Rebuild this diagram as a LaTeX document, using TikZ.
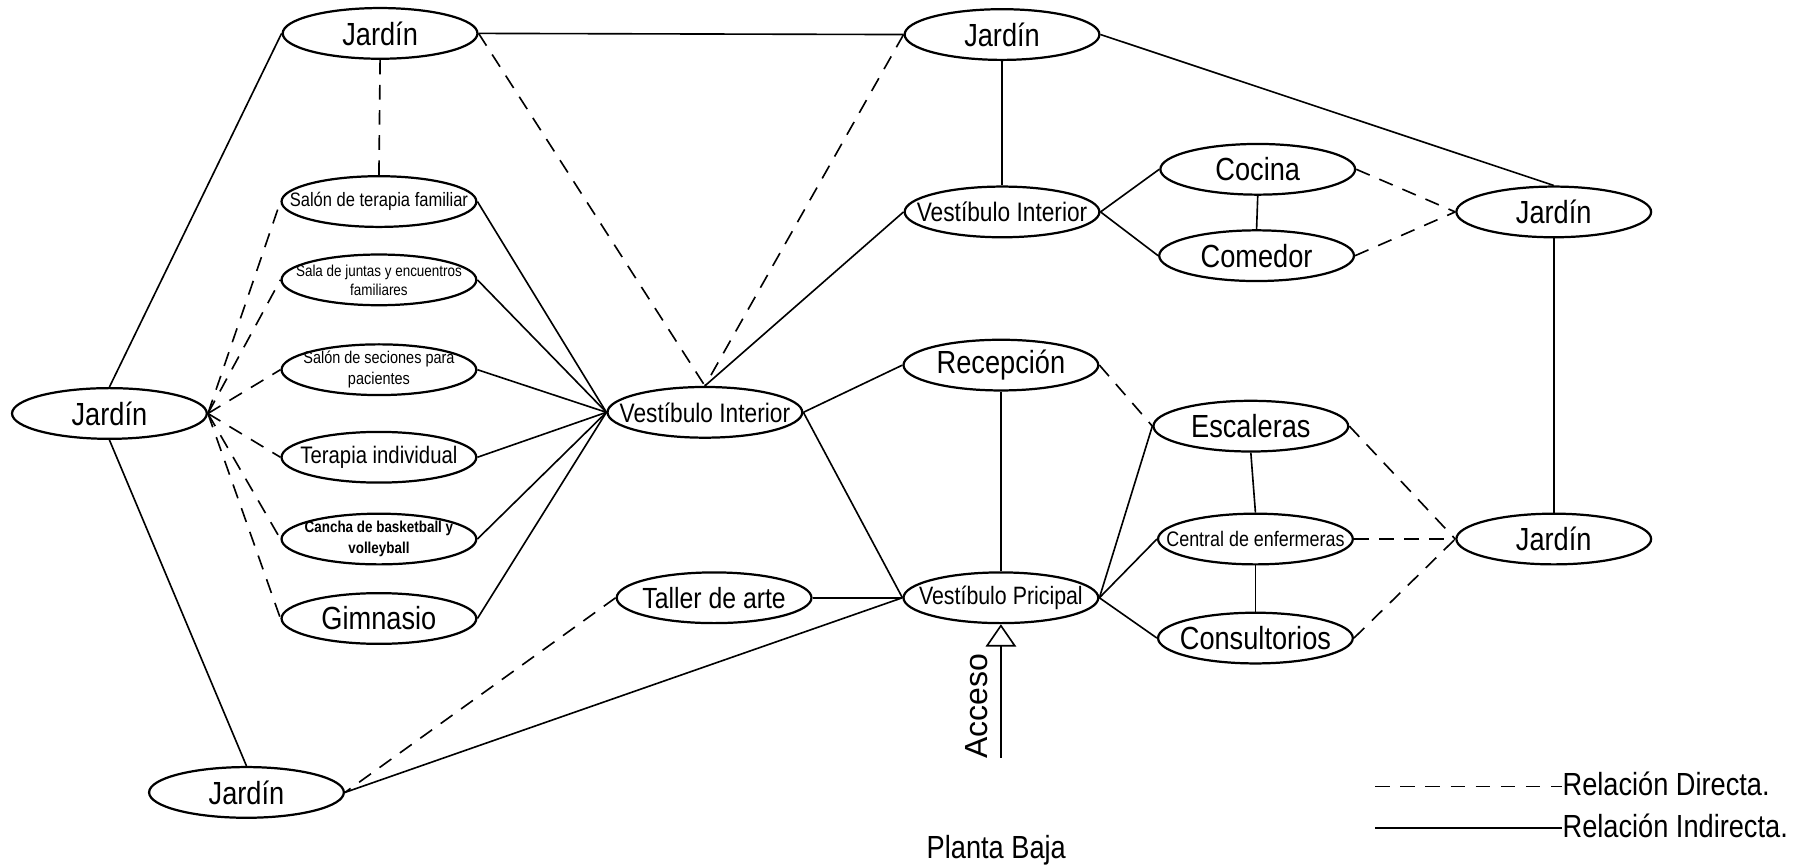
\documentclass[tikz,border=0pt]{standalone}
\usepackage{fontspec}
\setmainfont{Liberation Sans}[FakeStretch=0.85]
\newfontfamily\accfont{Liberation Sans}
\usetikzlibrary{arrows.meta,shapes.geometric}

\begin{document}
\begin{tikzpicture}[
  x=0.01cm, y=-0.01cm,
  espacio/.style={draw, ellipse, line width=0.55pt,
                  inner xsep=-2cm, inner ysep=-1cm,
                  minimum width=1.69cm, minimum height=0.44cm, align=center},
  grande/.style={espacio, font=\fontsize{7.9}{9}\selectfont},
  mediano/.style={espacio, font=\fontsize{6.6}{7.5}\selectfont},
  chico/.style={espacio, font=\fontsize{4.6}{5}\selectfont},
  directa/.style={line width=0.4pt, dash pattern=on 3.6pt off 2.6pt},
  indirecta/.style={line width=0.4pt},
  lbl/.style={font=\fontsize{7.9}{9}\selectfont, inner sep=0pt},
]
  \useasboundingbox (0,0) rectangle (1568,752);

  % Jardines
  \node[grande] (jTL) at (330, 29) {Jardín};
  \node[grande] (jTC) at (870, 30) {Jardín};
  \node[grande] (jL)  at (95, 359) {Jardín};
  \node[grande] (jB)  at (214, 688) {Jardín};
  \node[grande] (jR1) at (1349, 184) {Jardín};
  \node[grande] (jR2) at (1349, 468) {Jardín};

  % Salones (columna izquierda)
  \node[chico, font=\fontsize{4.8}{5.2}\selectfont] (terFam) at (329, 175)
    {Salón de terapia familiar};
  \node[chico, font=\fontsize{3.9}{4.7}\selectfont] (juntas) at (329, 243)
    {Sala de juntas y encuentros\\familiares};
  \node[chico, font=\fontsize{4.2}{5.1}\selectfont] (seciones) at (329, 321)
    {Salón de seciones para\\pacientes};
  \node[chico, font=\fontsize{5.9}{6.5}\selectfont] (terInd) at (329, 397)
    {Terapia individual};
  \node[chico, font=\fontsize{3.9}{5}\selectfont\bfseries] (cancha) at (329, 468)
    {Cancha de basketball y\\volleyball};
  \node[grande] (gimnasio) at (329, 537) {Gimnasio};

  % Vestibulos y demas espacios
  \node[mediano, font=\fontsize{6.6}{7.5}\selectfont] (vIntA) at (612, 358)
    {Vestíbulo Interior};
  \node[mediano, font=\fontsize{7.2}{8}\selectfont] (taller) at (620, 519)
    {Taller de arte};
  \node[mediano] (vIntB) at (870, 184) {Vestíbulo Interior};
  \node[grande] (cocina) at (1092, 147) {Cocina};
  \node[grande] (comedor) at (1091, 222) {Comedor};
  \node[grande] (recepcion) at (869, 317) {Recepción};
  \node[mediano, font=\fontsize{6.2}{7}\selectfont] (vPrin) at (869, 519)
    {Vestíbulo Pricipal};
  \node[grande] (escaleras) at (1086, 370) {Escaleras};
  \node[chico, font=\fontsize{5.2}{6}\selectfont] (central) at (1090, 468)
    {Central de enfermeras};
  \node[grande] (consult) at (1090, 554) {Consultorios};

  % Relaciones indirectas
  \draw[indirecta] (jTL.east) -- (jTC.west);
  \draw[indirecta] (jTL.west) -- (jL.north);
  \draw[indirecta] (jL.south) -- (jB.north);
  \draw[indirecta] (jTC.east) -- (jR1.north);
  \draw[indirecta] (jTC.south) -- (vIntB.north);
  \draw[indirecta] (vIntB.west) -- (vIntA.north);
  \draw[indirecta] (vIntB.east) -- (cocina.west);
  \draw[indirecta] (vIntB.east) -- (comedor.west);
  \draw[indirecta] (cocina.south) -- (comedor.north);
  \draw[indirecta] (jR1.south) -- (jR2.north);
  \draw[indirecta] (terFam.east) -- (vIntA.west);
  \draw[indirecta] (juntas.east) -- (vIntA.west);
  \draw[indirecta] (seciones.east) -- (vIntA.west);
  \draw[indirecta] (terInd.east) -- (vIntA.west);
  \draw[indirecta] (cancha.east) -- (vIntA.west);
  \draw[indirecta] (gimnasio.east) -- (vIntA.west);
  \draw[indirecta] (vIntA.east) -- (recepcion.west);
  \draw[indirecta] (vIntA.east) -- (vPrin.west);
  \draw[indirecta] (taller.east) -- (vPrin.west);
  \draw[indirecta] (jB.east) -- (vPrin.west);
  \draw[indirecta] (recepcion.south) -- (vPrin.north);
  \draw[indirecta] (vPrin.east) -- (escaleras.west);
  \draw[indirecta] (vPrin.east) -- (central.west);
  \draw[indirecta] (vPrin.east) -- (consult.west);
  \draw[indirecta] (escaleras.south) -- (central.north);
  \draw[indirecta] (central.south) -- (consult.north);

  % Relaciones directas
  \draw[directa] (jTL.south) -- (terFam.north);
  \draw[directa] (jTL.east) -- (vIntA.north);
  \draw[directa] (jTC.west) -- (vIntA.north);
  \draw[directa] (jL.east) -- (terFam.west);
  \draw[directa] (jL.east) -- (juntas.west);
  \draw[directa] (jL.east) -- (seciones.west);
  \draw[directa] (jL.east) -- (terInd.west);
  \draw[directa] (jL.east) -- (cancha.west);
  \draw[directa] (jL.east) -- (gimnasio.west);
  \draw[directa] (taller.west) -- (jB.east);
  \draw[directa] (cocina.east) -- (jR1.west);
  \draw[directa] (comedor.east) -- (jR1.west);
  \draw[directa] (recepcion.east) -- (escaleras.west);
  \draw[directa] (escaleras.east) -- (jR2.west);
  \draw[directa] (central.east) -- (jR2.west);
  \draw[directa] (consult.east) -- (jR2.west);

  % Acceso
  \coordinate (acc0) at (869, 658);
  \draw[indirecta, -{Triangle[open, length=5.5pt, width=7.5pt]}]
    (acc0) -- (vPrin.south);
  \node[font=\fontsize{7.9}{9}\accfont, rotate=90, inner sep=0pt] (acceso)
    at (848, 613) {Acceso};

  % Simbologia
  \node[lbl, anchor=west] (lDir) at (1356, 681) {Relación Directa.};
  \node[lbl, anchor=west] (lInd) at (1356, 717) {Relación Indirecta.};
  \coordinate (lDir0) at (1194, 683);
  \coordinate (lInd0) at (1194, 719);
  \draw[directa] (lDir0) -- (lDir0 -| lDir.west);
  \draw[indirecta] (lInd0) -- (lInd0 -| lInd.west);

  \node[lbl] (planta) at (865, 738) {Planta Baja};

\end{tikzpicture}
\end{document}
